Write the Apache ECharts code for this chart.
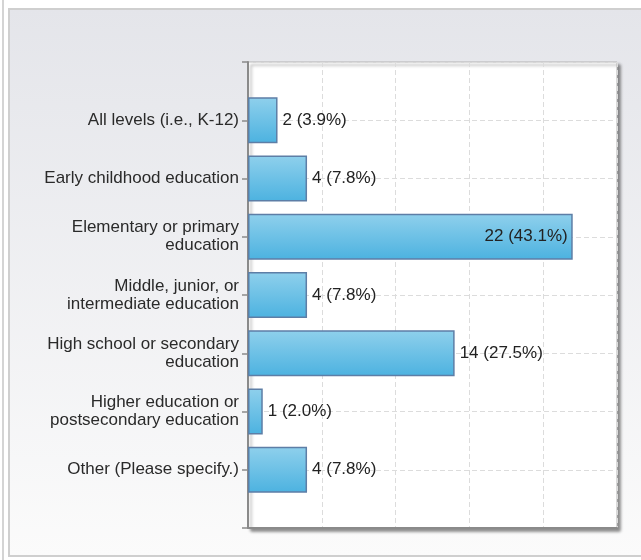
<!DOCTYPE html>
<html>
<head>
<meta charset="utf-8">
<script src="https://cdn.jsdelivr.net/npm/echarts@6/dist/echarts.min.js"></script>
<style>
  html, body { margin: 0; padding: 0; background: #fff; }
  #chart { width: 641px; height: 560px; }
</style>
</head>
<body>
<div id="chart"></div>
<script>
// answer options, top to bottom
const categories = [
  'All levels (i.e., K-12)',
  'Early childhood education',
  'Elementary or primary\neducation',
  'Middle, junior, or\nintermediate education',
  'High school or secondary\neducation',
  'Higher education or\npostsecondary education',
  'Other (Please specify.)'
]
const counts = [2, 4, 22, 4, 14, 1, 4]
const percents = ['3.9', '7.8', '43.1', '7.8', '27.5', '2.0', '7.8']
const xTicks = [0, 5, 10, 15, 20, 25]

// blank slots at both ends give the half-empty band above and below the bars
const yData = [''].concat(categories, [''])
const seriesData = [null].concat(counts.map((v, i) => ({
  value: v,
  label: { position: v > 15 ? 'insideRight' : 'right' },
  pct: percents[i]
})), [null])

const chart = echarts.init(document.getElementById('chart'))
chart.setOption({
  animation: false,
  textStyle: { fontFamily: 'Liberation Sans' },
  graphic: [
    { type: 'rect', shape: { x: 2, y: 0, width: 2, height: 560 }, style: { fill: '#d4d4d4' }, silent: true },
    {
      type: 'rect', z: -10,
      shape: { x: 9, y: 9, width: 640, height: 547 },
      style: {
        fill: new echarts.graphic.LinearGradient(0, 0, 0, 1, [
          { offset: 0, color: '#e4e5ea' },
          { offset: 1, color: '#fbfbfb' }
        ]),
        stroke: '#cfcfcf', lineWidth: 2
      },
      silent: true
    }
  ],
  grid: {
    left: 248, right: 24, top: 62, bottom: 32,
    show: true,
    backgroundColor: '#fff',
    borderColor: '#b5b5b5',
    borderWidth: 1,
    shadowColor: 'rgba(0,0,0,0.45)',
    shadowBlur: 3,
    shadowOffsetX: 3,
    shadowOffsetY: 3
  },
  xAxis: {
    type: 'value',
    min: xTicks[0],
    max: xTicks[xTicks.length - 1],
    interval: xTicks[1] - xTicks[0],
    axisLabel: { show: false },
    axisTick: { show: false },
    axisLine: { show: true, lineStyle: { color: '#8a8a8a', width: 2 } },
    splitLine: { lineStyle: { color: '#dcdcdc', type: [5, 3] } }
  },
  yAxis: {
    type: 'category',
    inverse: true,
    boundaryGap: false,
    data: yData,
    axisLine: { lineStyle: { color: '#8a8a8a', width: 2 } },
    axisTick: { show: true, length: 6, lineStyle: { color: '#8a8a8a', width: 1.5 } },
    axisLabel: { color: '#2a2a2a', fontSize: 17, lineHeight: 18, margin: 9, align: 'right' },
    splitLine: { show: true, lineStyle: { color: '#dcdcdc', type: [5, 3] } }
  },
  series: [{
    type: 'bar',
    data: seriesData,
    barWidth: 46,
    itemStyle: {
      color: new echarts.graphic.LinearGradient(0, 0, 0, 1, [
        { offset: 0, color: '#8fd0ec' },
        { offset: 1, color: '#4cb2e0' }
      ]),
      borderColor: '#5d7ea6',
      borderWidth: 1.5
    },
    label: {
      show: true,
      color: '#222',
      fontSize: 17,
      distance: 5,
      formatter: p => p.value + ' (' + p.data.pct + '%)'
    }
  }]
})
</script>
</body>
</html>
